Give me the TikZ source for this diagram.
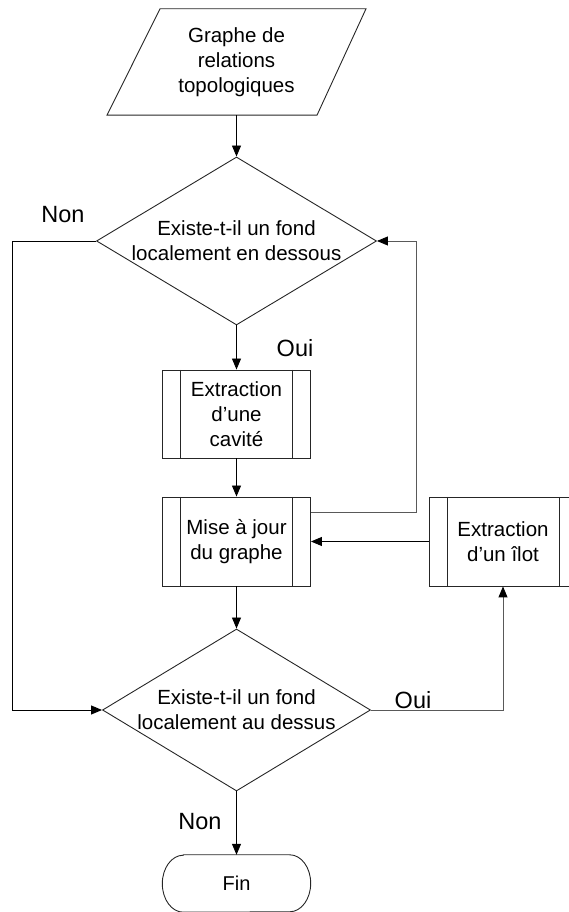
\documentclass[tikz,border=0pt]{standalone}
\usepackage{fontspec}
\setmainfont{Liberation Sans}
\usetikzlibrary{shapes.geometric,arrows.meta}
\begin{document}
\begin{tikzpicture}[x=1pt,y=1pt,
  txt/.style={font=\fontsize{20.5}{25}\selectfont, align=center},
  lab/.style={font=\fontsize{23.5}{28}\selectfont},
  dia/.style={diamond, draw=black!85, line width=0.9pt, inner sep=0pt, txt},
  proc/.style={rectangle, draw=black!85, line width=0.9pt, minimum width=148pt, minimum height=88pt, inner sep=0pt, txt,
    path picture={\draw[black!85, line width=0.9pt]
      ([xshift=18pt]path picture bounding box.north west) -- ([xshift=18pt]path picture bounding box.south west)
      ([xshift=-18pt]path picture bounding box.north east) -- ([xshift=-18pt]path picture bounding box.south east);}},
  outl/.style={draw=black!85, line width=0.9pt},
  arr/.style={draw=black, line width=0.9pt, -{Triangle[length=11pt,width=9pt,color=black]}},
  garr/.style={draw=black!65, line width=0.9pt, -{Triangle[length=11pt,width=9pt,color=black]}}
]
\useasboundingbox (0,0) rectangle (569,912);

% input parallelogram
\node[txt, minimum width=210pt, minimum height=106pt, inner sep=0pt] (in) at (236.5,850) {Graphe de\\relations\\topologiques};
\draw[outl] ([xshift=-76.5pt]in.north) -- ([xshift=129.5pt]in.north) -- ([xshift=80.5pt]in.south) -- ([xshift=-129.5pt]in.south) -- cycle;

% decision 1
\node[dia, shape aspect=1.667, minimum width=280pt, minimum height=168pt] (d1) at (236.5,671) {Existe-t-il un fond\\localement en dessous};

% process boxes
\node[proc] (b1) at (236.5,498) {Extraction\\d’une\\cavité};
\node[proc, minimum height=89pt] (b2) at (236.5,370.5) {Mise à jour\\du graphe};
\node[proc, minimum height=89pt] (b3) at (503,370.5) {Extraction\\d’un îlot};

% decision 2
\node[dia, shape aspect=1.654, minimum width=268pt, minimum height=162pt] (d2) at (236.5,202) {Existe-t-il un fond\\localement au dessus};

% terminator
\node[txt, minimum width=148pt, minimum height=57pt, inner sep=0pt, font=\fontsize{20}{24}\selectfont] (fin) at (236.5,28.5) {Fin};
\draw[outl] ([xshift=21pt]fin.north west) -- ([xshift=-21pt]fin.north east)
  arc[start angle=90, end angle=-90, x radius=21pt, y radius=28.5pt]
  -- ([xshift=21pt]fin.south west)
  arc[start angle=270, end angle=90, x radius=21pt, y radius=28.5pt] -- cycle;

% labels
\node[lab] (non1) at (63,697) {Non};
\node[lab] (oui1) at (295,564) {Oui};
\node[lab] (oui2) at (413,212) {Oui};
\node[lab] (non2) at (200,90) {Non};

% connectors
\draw[arr] (in.south) -- (d1.north);
\draw[arr] (d1.south) -- (b1.north);
\draw[arr] (b1.south) -- (b2.north);
\draw[arr] (b2.south) -- (d2.north);
\draw[arr] (d2.south) -- (fin.north);
\draw[arr] (d1.west) -- ++(-83.5pt,0) |- (d2.west);
\draw[garr] ([yshift=29.5pt]b2.east) -- ++(105.5pt,0) |- (d1.east);
\draw[arr] (b3.west) -- (b2.east);
\draw[garr] (d2.east) -| (b3.south);
\end{tikzpicture}
\end{document}
